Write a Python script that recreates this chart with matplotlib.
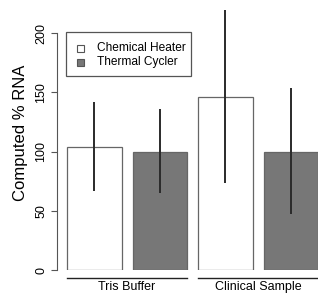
import matplotlib
matplotlib.use("Agg")
import matplotlib.pyplot as plt
from matplotlib.patches import Rectangle
from matplotlib.transforms import Affine2D

plt.rcParams['font.family'] = ['Liberation Sans', 'DejaVu Sans']

groups = ["Tris Buffer", "Clinical Sample"]
series = ["Chemical Heater", "Thermal Cycler"]
means = {"Chemical Heater": [104, 146], "Thermal Cycler": [100, 100]}
err_low = {"Chemical Heater": [67, 73], "Thermal Cycler": [65, 47]}
err_high = {"Chemical Heater": [142, 219], "Thermal Cycler": [136, 154]}
colors = {"Chemical Heater": "#ffffff", "Thermal Cycler": "#777777"}
yticks = [0, 50, 100, 150, 200]

W, H = 318, 294
fig = plt.figure(figsize=(W / 100, H / 100), dpi=100)
ax = fig.add_axes([57 / W, 24 / H, 1 - 57 / W, (270 - 5) / H])

width = 1.0
space = 0.2
x0 = 0.017
x1 = x0 + (W - 57) / 54.6
ax.set_xlim(x0, x1)
ymax = (270 - 5) / 1.185
ax.set_ylim(0, ymax)

for gi, g in enumerate(groups):
    for si, s in enumerate(series):
        left = space + (gi * 2 + si) * (width + space)
        c = left + width / 2
        ax.bar(c, means[s][gi], width=width, color=colors[s],
               edgecolor="#666666", linewidth=0.9, zorder=2)
        ax.plot([c, c], [err_low[s][gi], err_high[s][gi]], color="#2a2a2a",
                lw=1.4, zorder=3, solid_capstyle="butt", clip_on=False)
    gl = space + gi * 2 * (width + space)
    gr = gl + 2 * width + space
    ax.plot([gl, gr], [-6.8, -6.8], color="#222222", lw=1.0, clip_on=False)
    ax.text((gl + gr) / 2, -14.5, g, ha="center", va="center", fontsize=9)

for sp in ["top", "right", "bottom"]:
    ax.spines[sp].set_visible(False)
ax.spines["left"].set_bounds(0, 200)
ax.spines["left"].set_color("#555555")
ax.set_xticks([])
ax.set_yticks(yticks)
ax.set_yticklabels([str(t) for t in yticks], rotation=90, va="center", fontsize=9)
ax.tick_params(axis="y", length=4, color="#555555", pad=3)
ax.set_ylabel("Computed % RNA", fontsize=12)
ax.yaxis.set_label_coords((28 - 57) / (W - 57), (270 - 133) / 265)

# legend drawn in pixel coordinates (top-left origin)
tr = Affine2D().scale(1 / W, -1 / H).translate(0, 1) + fig.transFigure
fig.patches.append(Rectangle((66, 32), 125, 44, transform=tr, facecolor="white",
                             edgecolor="#555555", lw=0.9, zorder=5))
for i, s in enumerate(series):
    yc = 48 + i * 14
    fig.patches.append(Rectangle((77, yc - 3.5), 7, 7, transform=tr,
                                 facecolor=colors[s], edgecolor="#555555",
                                 lw=0.8, zorder=6))
    fig.text(97, yc, s, transform=tr, ha="left", va="center", fontsize=8.6,
             zorder=7)

fig.savefig("out.png", dpi=100)
